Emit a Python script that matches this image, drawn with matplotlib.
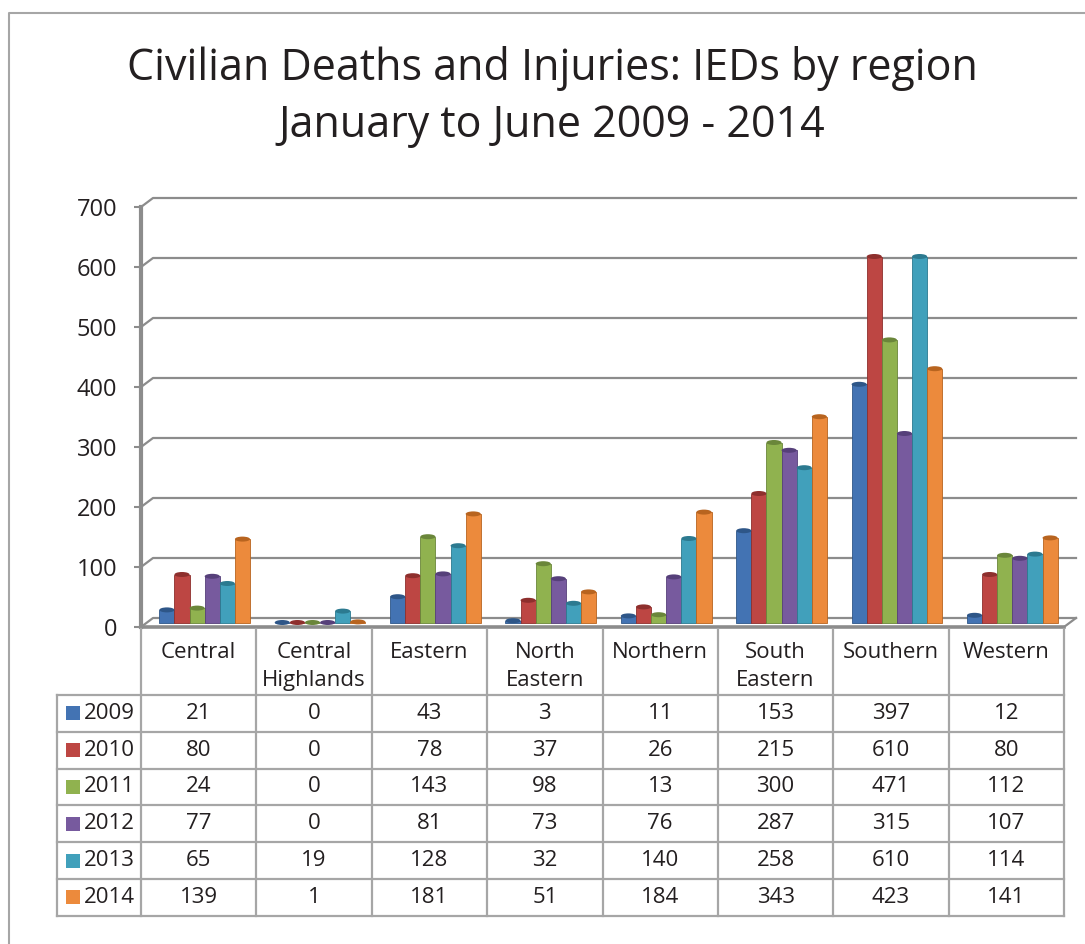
import numpy as np
import matplotlib
matplotlib.use("Agg")
import matplotlib.pyplot as plt
from matplotlib.patches import Ellipse, Rectangle
from matplotlib.lines import Line2D
from matplotlib import transforms

plt.rcParams['font.family'] = ['Open Sans', 'DejaVu Sans']

# data
regions = ["Central", "Central\nHighlands", "Eastern", "North\nEastern",
           "Northern", "South\nEastern", "Southern", "Western"]
years = ["2009", "2010", "2011", "2012", "2013", "2014"]
v2009 = [21, 0, 43, 3, 11, 153, 397, 12]
v2010 = [80, 0, 78, 37, 26, 215, 610, 80]
v2011 = [24, 0, 143, 98, 13, 300, 471, 112]
v2012 = [77, 0, 81, 73, 76, 287, 315, 107]
v2013 = [65, 19, 128, 32, 140, 258, 610, 114]
v2014 = [139, 1, 181, 51, 184, 343, 423, 141]
series = [v2009, v2010, v2011, v2012, v2013, v2014]
colors = ["#4373b3", "#bd4643", "#90b24f", "#775a9e", "#41a0bb", "#ec8a3c"]
edges = ["#2e5688", "#8e2f2d", "#6a863a", "#56407a", "#2c7a90", "#b8641f"]

W, H = 1085, 944
def fx(x):
    return x / W
def fy(y):
    return 1 - y / H

fig = plt.figure(figsize=(W / 100, H / 100), dpi=100)
ax = fig.add_axes([fx(141), fy(627), (1064 - 141) / W, (627 - 207) / H])
ax.set_xlim(-0.5, 7.5)
ax.set_ylim(0, 700)

grey = "#8c8c8c"
txt = "#231f20"
px_x = (7.5 + 0.5) / 923.0   # data units per pixel
px_y = 700 / 420.0
ddx = 12 * px_x
ddy = 9 * px_y

# back wall gridlines (3D offset)
for v in range(0, 701, 100):
    ax.plot([-0.5, -0.5 + ddx, 7.5 + ddx], [v, v + ddy, v + ddy],
            color=grey, lw=1.6, clip_on=False, zorder=1)
# floor front edge and right slant
ax.plot([-0.5, 7.5], [0, 0], color=grey, lw=2.6, clip_on=False, zorder=2)
ax.plot([7.5, 7.5 + ddx], [0, ddy], color=grey, lw=1.6, clip_on=False, zorder=2)

# bars
w = 0.131
x = np.arange(len(regions))
for k, vals in enumerate(series):
    xs = x + (k - 2.5) * w + ddx / 2
    ax.bar(xs, vals, width=w, bottom=ddy / 2, color=colors[k],
           edgecolor=edges[k], linewidth=0.6, zorder=3 + k * 0.01)
    for xi, vi in zip(xs, vals):
        ax.add_patch(Ellipse((xi, vi + ddy / 2), w, 5 * px_y, facecolor=edges[k],
                             edgecolor='none', zorder=3.5 + k * 0.01, clip_on=False))

# axes styling
for s in ["top", "right", "bottom"]:
    ax.spines[s].set_visible(False)
ax.spines["left"].set_color(grey)
ax.spines["left"].set_linewidth(3)
ax.set_xticks([])
ax.set_yticks(range(0, 701, 100))
ax.tick_params(axis="y", length=5, width=1.5, color=grey, labelsize=17,
               labelcolor=txt, pad=12)
ax.patch.set_visible(False)

# title
fig.text(fx(552), fy(80), "Civilian Deaths and Injuries: IEDs by region",
         ha="center", va="baseline", fontsize=31, color=txt)
fig.text(fx(552), fy(137), "January to June 2009 - 2014",
         ha="center", va="baseline", fontsize=31, color=txt)

# outer border
fig.add_artist(Line2D([fx(8.5), fx(8.5), fx(1085)], [fy(944), fy(12.5), fy(12.5)],
                      color="#a6a6a6", lw=1.5))

# data table
tgrey = "#a6a6a6"
tsize = 16
blend = transforms.blended_transform_factory(ax.transData, fig.transFigure)
head_top, head_bot = 629, 695
row_h = 36.8
bottom = head_bot + row_h * len(years)
for i in range(len(regions) + 1):
    fig.add_artist(Line2D([i - 0.5, i - 0.5], [fy(head_top), fy(bottom)],
                          transform=blend, color=tgrey, lw=1.6))
fig.add_artist(Line2D([fx(57), fx(57)], [fy(head_bot), fy(bottom)], color=tgrey, lw=1.6))
for r in range(len(years) + 1):
    yy = head_bot + r * row_h
    fig.add_artist(Line2D([fx(57), fx(1064)], [fy(yy), fy(yy)], color=tgrey, lw=1.6))

for i, name in enumerate(regions):
    fig.text(i, fy(642), name, transform=blend, ha="center", va="top",
             fontsize=tsize, color=txt, linespacing=1.45)

for r, yr in enumerate(years):
    ym = head_bot + (r + 0.5) * row_h
    fig.add_artist(Rectangle((fx(66), fy(ym + 7)), 14 / W, 14 / H,
                             facecolor=colors[r], edgecolor="none"))
    fig.text(fx(84), fy(ym), yr, ha="left", va="center", fontsize=tsize, color=txt)
    for i, v in enumerate(series[r]):
        fig.text(i, fy(ym), str(v), transform=blend, ha="center", va="center",
                 fontsize=tsize, color=txt)

fig.savefig("out.png", dpi=100, facecolor="white")
